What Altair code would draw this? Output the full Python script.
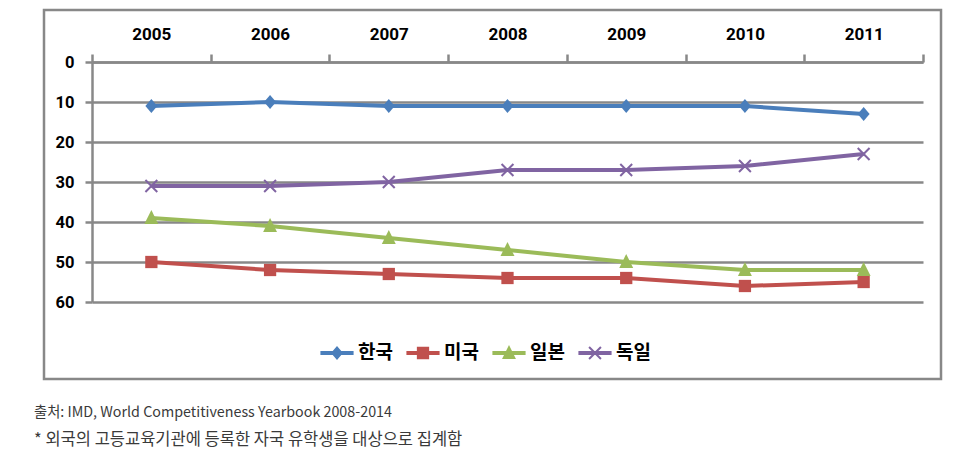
import altair as alt
import pandas as pd

years = ["2005", "2006", "2007", "2008", "2009", "2010", "2011"]
countries = ["한국", "미국", "일본", "독일"]
korea = [11, 10, 11, 11, 11, 11, 13]
usa = [50, 52, 53, 54, 54, 56, 55]
japan = [39, 41, 44, 47, 50, 52, 52]
germany = [31, 31, 30, 27, 27, 26, 23]
colors = ["#4A7EBB", "#C0504D", "#9BBB59", "#8064A2"]
note_source = "출처: IMD, World Competitiveness Yearbook 2008-2014"
note_star = "* 외국의 고등교육기관에 등록한 자국 유학생을 대상으로 집계함"

rows = []
for name, vals in zip(countries, [korea, usa, japan, germany]):
    for yr, v in zip(years, vals):
        rows.append({"연도": yr, "국가": name, "순위": v})
df = pd.DataFrame(rows)

diamond = "M0,-0.42L0.36,0L0,0.42L-0.36,0Z"
square = "M-0.37,-0.37H0.37V0.37H-0.37Z"
triangle = "M0,-0.48L0.42,0.36H-0.42Z"
xmark = ("M-0.4,-0.315L-0.315,-0.4L0,-0.085L0.315,-0.4L0.4,-0.315L0.085,0"
         "L0.4,0.315L0.315,0.4L0,0.085L-0.315,0.4L-0.4,0.315L-0.085,0Z")
marker_paths = [diamond, square, triangle, xmark]
bar = "M-1,-0.12H1V0.12H-1Z"
legend_paths = [bar + p for p in marker_paths]

FONT_NUM = "Roboto"
FONT_KR = "Noto Sans CJK KR"
GRAY = "#888888"

x_enc = alt.X("연도:N", sort=years,
              scale=alt.Scale(paddingInner=0, paddingOuter=0),
              axis=alt.Axis(orient="top", title=None, labelAngle=0,
                            labelFont=FONT_NUM, labelFontSize=17, labelFontWeight="bold",
                            labelColor="#000000", labelPadding=11,
                            tickBand="extent", tickColor=GRAY, tickWidth=2.5, tickSize=8,
                            domainColor=GRAY, domainWidth=2.5, grid=False))
y_enc = alt.Y("순위:Q",
              scale=alt.Scale(domain=[0, 60], reverse=True, nice=False),
              axis=alt.Axis(title=None, values=[0, 10, 20, 30, 40, 50, 60],
                            labelFont=FONT_NUM, labelFontSize=16.5, labelFontWeight="bold",
                            labelColor="#000000", labelPadding=11,
                            tickColor=GRAY, tickWidth=2.5, tickSize=7,
                            domainColor=GRAY, domainWidth=2.5,
                            grid=True, gridColor=GRAY, gridWidth=2.5))

color_scale = alt.Scale(domain=countries, range=colors)

base = alt.Chart(df)

lines = base.mark_line(strokeWidth=4).encode(
    x=x_enc, y=y_enc,
    color=alt.Color("국가:N", scale=color_scale, legend=None),
)

points = base.mark_point(filled=True, size=1100, opacity=1).encode(
    x=x_enc, y=y_enc,
    color=alt.Color("국가:N", scale=color_scale, legend=None),
    shape=alt.Shape("국가:N", scale=alt.Scale(domain=countries, range=marker_paths), legend=None),
)

leg = alt.Legend(title=None, orient="none", direction="horizontal",
                 legendX=228, legendY=274, symbolSize=1100, symbolOpacity=1,
                 labelFont=FONT_KR, labelFontSize=19, labelFontWeight="bold",
                 labelColor="#000000", labelOffset=4, columnPadding=13,
                 symbolStrokeWidth=0)

legend_layer = base.mark_point(filled=True, size=1100, opacity=0).encode(
    x=x_enc, y=y_enc,
    color=alt.Color("국가:N", scale=color_scale, legend=leg),
    shape=alt.Shape("국가:N", scale=alt.Scale(domain=countries, range=legend_paths), legend=leg),
)

frame = alt.Chart(alt.Data(values=[{"f": 1}])).mark_rect(
    fill="transparent", stroke=GRAY, strokeWidth=2.5
).encode(x=alt.value(-48), x2=alt.value(849), y=alt.value(-52), y2=alt.value(317))

src_text = alt.Chart(pd.DataFrame({"t": [note_source]})).mark_text(
    align="left", baseline="middle", font=FONT_KR, fontSize=14.3, color="#3a3a3a"
).encode(x=alt.value(-58), y=alt.value(351), text="t:N")

star_text = alt.Chart(pd.DataFrame({"t": [note_star]})).mark_text(
    align="left", baseline="middle", font=FONT_KR, fontSize=16.5, color="#3a3a3a"
).encode(x=alt.value(-58), y=alt.value(378), text="t:N")

chart = alt.layer(lines, points, legend_layer, frame, src_text, star_text).resolve_scale(
    color="independent", shape="independent"
).properties(
    width=831, height=240,
    autosize=alt.AutoSizeParams(type="none"),
    padding={"left": 84, "top": 54, "right": 20, "bottom": 164},
).configure_view(strokeWidth=0)

chart.save("out.html", embed_options={"renderer": "svg", "actions": False})
